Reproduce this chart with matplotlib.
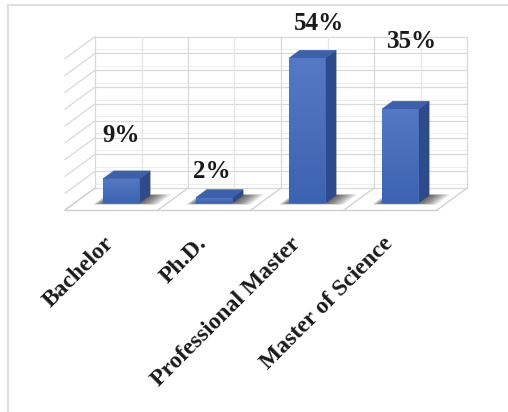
import numpy as np
import matplotlib.pyplot as plt
from matplotlib.patches import Polygon
from matplotlib.lines import Line2D
from matplotlib.colors import LinearSegmentedColormap

categories = ['Bachelor', 'Ph.D.', 'Professional Master', 'Master of Science']
values = [9, 2, 54, 35]
value_labels = ['9%', '2%', '54%', '35%']

# label nudges (category units, percent) - placement only
label_nudge = [(0.0, 16), (-0.02, 9.6), (0.13, 12.8), (0.13, 25.4)]

W, H = 508, 412
fig = plt.figure(figsize=(W / 100, H / 100), dpi=100)

# axes in category / percent units, mapped onto the plane of the bar fronts
px_cat, px_pct = 93.0, 2.68
x0_px, y0_px = 74.6, 203
ax = fig.add_axes([0, 0, 1, 1])
ax.axis('off')

# fake depth: back wall (d=0) -> floor front (d=1)
DX, DY = -30 / px_cat, -22 / px_pct
FRONT, BACK = 0.68, 0.32
wall_top = 56.5
n_cat = len(categories)


def P(x, v, d):
    return (x + (d - FRONT) * DX, v + (d - FRONT) * DY)


def seg(a, b, **kw):
    ax.plot([a[0], b[0]], [a[1], b[1]], **kw)


grid_c = '#d9d9d9'
edge_c = '#cfcfcf'

# walls and floor
for pts in [[P(0, 0, 0), P(n_cat, 0, 0), P(n_cat, wall_top, 0), P(0, wall_top, 0)],
            [P(0, 0, 0), P(0, 0, 1), P(0, wall_top, 1), P(0, wall_top, 0)],
            [P(0, 0, 0), P(n_cat, 0, 0), P(n_cat, 0, 1), P(0, 0, 1)]]:
    ax.add_patch(Polygon(pts, closed=True, facecolor='white', edgecolor='none', zorder=1))

for v in np.linspace(0, wall_top, 10):
    seg(P(0, v, 0), P(n_cat, v, 0), color=grid_c, lw=0.9, zorder=2)
    seg(P(0, v, 0), P(0, v, 1), color=grid_c, lw=0.9, zorder=2)
    if v < wall_top - 1:
        seg(P(0, v + 1.6, 0), P(n_cat, v + 1.6, 0), color='#eeeeee', lw=0.7, zorder=2)

for x in np.arange(0, n_cat + 0.01, 0.5):
    seg(P(x, 0, 0), P(x, wall_top, 0), color=grid_c if x % 1 == 0 else '#e6e6e6', lw=0.9, zorder=2)

for x in range(n_cat + 1):
    seg(P(x, 0, 0), P(x, 0, 1), color=edge_c, lw=0.9, zorder=2)
seg(P(0, 0, 1), P(n_cat, 0, 1), color=edge_c, lw=1.0, zorder=2)

# bars
hw = 0.195
grad = np.linspace(0, 1, 64).reshape(-1, 1)
cmap = LinearSegmentedColormap.from_list('b', ['#3c63b0', '#5579c4'])
for i, v in enumerate(values):
    xc = i + 0.5
    # soft shadow on the floor
    for m in np.linspace(0.17, 0.01, 12):
        sh = [P(xc - hw - m * 0.5, 0, FRONT + m * 0.45), P(xc + hw + m * 1.3, 0, FRONT + m * 0.45),
              P(xc + hw + m * 1.3, 0, BACK - m * 0.2), P(xc - hw - m * 0.5, 0, BACK - m * 0.2)]
        ax.add_patch(Polygon(sh, closed=True, facecolor='black', alpha=0.07,
                             edgecolor='none', zorder=3))
    front = [P(xc - hw, 0, FRONT), P(xc + hw, 0, FRONT), P(xc + hw, v, FRONT), P(xc - hw, v, FRONT)]
    side = [P(xc + hw, 0, FRONT), P(xc + hw, 0, BACK), P(xc + hw, v, BACK), P(xc + hw, v, FRONT)]
    top = [P(xc - hw, v, FRONT), P(xc + hw, v, FRONT), P(xc + hw, v, BACK), P(xc - hw, v, BACK)]
    ax.add_patch(Polygon(side, closed=True, facecolor='#2d4a8c', edgecolor='#2d4a8c', lw=0.5, zorder=4))
    ax.add_patch(Polygon(top, closed=True, facecolor='#3e60aa', edgecolor='#3e60aa', lw=0.5, zorder=4))
    fp = Polygon(front, closed=True, facecolor='#4770be', edgecolor='#4770be', lw=0.5, zorder=4)
    ax.add_patch(fp)
    im = ax.imshow(grad, cmap=cmap, origin='lower', aspect='auto',
                   extent=(xc - hw, xc + hw, 0, max(v, 0.1)), zorder=5)
    im.set_clip_path(fp)
    # value label
    ox, oy = label_nudge[i]
    ax.text(xc + ox, v + oy, value_labels[i], ha='center', va='center',
            family='Liberation Serif', weight='bold', fontsize=18, color='#1a1a1a', zorder=6)
    # category label
    ax.text(xc - 0.11, -14, categories[i], rotation=45, rotation_mode='anchor',
            ha='right', va='center',
            family='Liberation Serif', weight='bold', fontsize=17, color='#1a1a1a', zorder=6)

ax.set_xlim(-x0_px / px_cat, (W - x0_px) / px_cat)
ax.set_ylim((y0_px - H) / px_pct, y0_px / px_pct)

# thin frame around the picture (top and left visible)
fig.add_artist(Line2D([8 / W, 1], [1 - 5 / H, 1 - 5 / H], color='#dedede', lw=1.5))
fig.add_artist(Line2D([8 / W, 8 / W], [0, 1 - 5 / H], color='#dedede', lw=1.5))

fig.savefig('out.png', dpi=100)
